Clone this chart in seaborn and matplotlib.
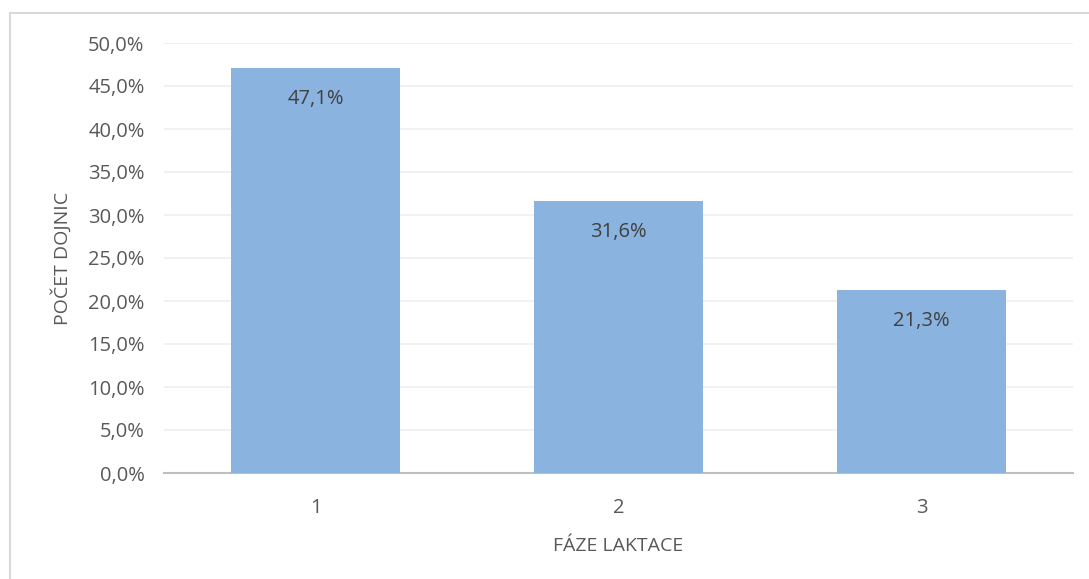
import matplotlib
matplotlib.use('Agg')
import matplotlib.pyplot as plt
import seaborn as sns
import pandas as pd
from matplotlib.patches import Rectangle
from matplotlib.ticker import FuncFormatter

# data
phases = ['1', '2', '3']
shares = [47.1, 31.6, 21.3]
y_ticks = [0, 5, 10, 15, 20, 25, 30, 35, 40, 45, 50]

sns.set_theme(style='white')
plt.rcParams['font.family'] = ['Open Sans', 'DejaVu Sans']

df = pd.DataFrame({'phase': phases, 'share': shares})

fig = plt.figure(figsize=(10.89, 5.79), dpi=100)
ax = fig.add_axes([164 / 1089, 1 - 473 / 579, (1073 - 164) / 1089, (473 - 43) / 579])

# outer chart border (Excel style, clipped at right/bottom)
fig.patches.append(Rectangle((9.5 / 1089, -0.05), 1.2, 1 - 12.5 / 579 + 0.05,
                             transform=fig.transFigure, fill=False,
                             edgecolor='#d9d9d9', linewidth=1.5, zorder=0))

sns.barplot(data=df, x='phase', y='share', color='#8ab4df', width=0.555,
            saturation=1, linewidth=0, ax=ax, zorder=3)

ax.set_ylim(0, 50)
ax.set_yticks(y_ticks)
ax.yaxis.set_major_formatter(FuncFormatter(lambda v, _: f'{v:.1f}%'.replace('.', ',')))
ax.grid(axis='y', color='#efefef', linewidth=1.2, zorder=0)
ax.set_axisbelow(True)

for side in ['top', 'right', 'left']:
    ax.spines[side].set_visible(False)
ax.spines['bottom'].set_color('#bfbfbf')
ax.spines['bottom'].set_linewidth(1.5)

ax.tick_params(axis='both', length=0, labelsize=14.5, labelcolor='#595959')
ax.tick_params(axis='y', pad=14)
ax.tick_params(axis='x', pad=18)

ax.set_xlabel('FÁZE LAKTACE', fontsize=14, color='#595959', labelpad=14)
ax.set_ylabel('POČET DOJNIC', fontsize=14, color='#595959', labelpad=12)

for i, v in enumerate(shares):
    ax.annotate(f'{v:.1f}%'.replace('.', ','), (i, v), xytext=(0, -22.5),
                textcoords='offset points', ha='center', va='center',
                fontsize=14.5, color='#404040')

fig.savefig('out.png', dpi=100, facecolor='white')
